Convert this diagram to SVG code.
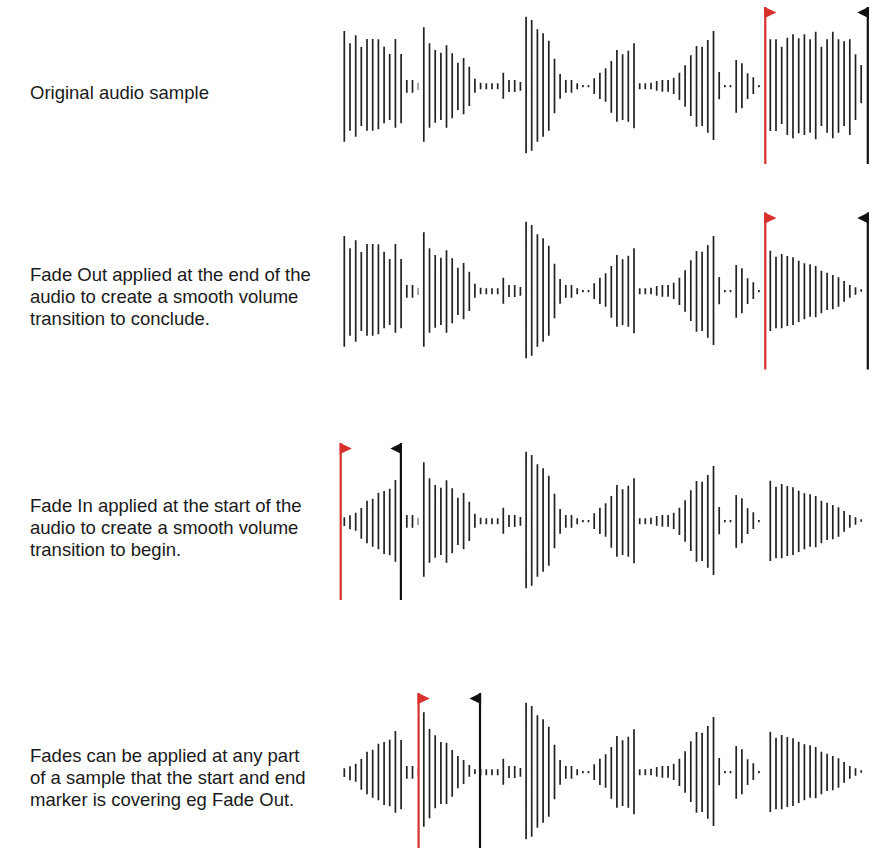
<svg xmlns="http://www.w3.org/2000/svg" xmlns:xlink="http://www.w3.org/1999/xlink" width="881" height="848" viewBox="0 0 881 848">
<style>
.b{fill:none;stroke:#222;stroke-width:1.7;stroke-linecap:butt}
.g{fill:none;stroke:#9a9a9a;stroke-width:1.7}
.t{font-family:"Liberation Sans",Arial,Helvetica,sans-serif;font-size:18.5px;fill:#1a1a1a}
.rp{stroke:#d8312d;stroke-width:2.2;fill:none}
.rf{fill:#d8312d}
.kp{stroke:#111;stroke-width:2.2;fill:none}
.kf{fill:#111}
</style>
<defs>
<path id="segA" class="b" d="M344.3 31V141.7M350 43.3V130.7M355.7 35.3V136.7M361.3 47V126M367 39V130.7M372.7 39V130.7M378.4 39.3V129.3M384.1 46.7V123.3M389.7 54V120M395.4 39V127.7M401.1 54V123.3"/>
<path id="segAf" class="b" d="M344.3 82.3V91M350 80.3V94.3M355.7 77.7V95.7M361.3 73V103.7M367 65.7V108.3M372.7 63.7V111.7M378.4 57.7V114.3M384.1 56V119M389.7 53.7V120.3M395.4 45V126.7M401.1 54V123.3"/>
<g id="segB"><path class="b" d="M406.8 80V92.7M412.5 80V92.7"/><path class="g" d="M418.1 82.7V90"/></g>
<path id="segC" class="b" d="M423.8 27.3V141.7M429.5 43.3V127.7M435.2 50V122.7M440.9 52.7V120M446.5 45.3V127.7M452.2 53.3V118.3M457.9 62.7V110M463.6 58V114.3M469.3 66.7V106M474.9 78.7V92.7"/>
<path id="segCf" class="b" d="M423.8 26.3V140.7M429.5 43V132.3M435.2 49.3V122.3M440.9 56V118M446.5 56.7V118M452.2 64V110.7M457.9 70V102.3M463.6 74V98M469.3 79V90.7M474.9 83.3V88"/>
<path id="segD" class="b" d="M480.6 82.7V89.3M486.3 83.3V89.3M492 83.3V89.3M497.7 83.3V89.3M503.3 72.7V98.7M509 80V92M514.7 80V92M520.4 82V90.7M526.1 16.7V153.3M531.7 20V150.7M537.4 29.3V141.7M543.1 33.3V136.7M548.8 40.7V130.7M554.5 58.7V113.3M560.1 74V98.7M565.8 80V92.7M571.5 80V92.7M577.2 83.3V89.3M582.9 85V87.3M588.5 85V87.3M594.2 78.3V94M599.9 72.7V99M605.6 68.3V101.7M611.3 61V112.7M616.9 50V121.7M622.6 54.3V120M628.3 50.7V121.7M634 43.3V128.3M639.7 83.3V89.3M645.3 83.3V89.3M651 82.7V89.3M656.7 81V90.7M662.4 80V91.7M668.1 80V91.7M673.7 77.7V94M679.4 72.7V100M685.1 65.3V106.7M690.8 55.3V116M696.5 46V126.7M702.1 46.7V126M707.8 40V132.7M713.5 31V140M719.2 72V99.3M724.9 85V87.3M730.5 85V87.3M736.2 60V112.7M741.9 63.3V108.3M747.6 73.3V99M753.3 77.3V94M758.9 85V87.3"/>
<path id="segE" class="b" d="M770.3 39.3V131M776 39.3V131M781.7 46.7V124M787.3 37.7V135M793 34.3V138.3M798.7 38.3V133.3M804.4 34.3V135M810.1 39.3V132.7M815.7 31.7V139.3M821.4 46.7V126M827.1 39.3V132.7M832.8 31.7V138.3M838.5 39.3V132.7M844.1 41.3V126M849.8 39.3V135M855.5 54.3V120M861.2 65V103.3"/>
<path id="segEf" class="b" d="M770.3 45.7V126M776 51.7V123.3M781.7 49V123.3M787.3 51V121M793 52.3V120M798.7 55.7V117M804.4 58.3V114.3M810.1 59.3V111.7M815.7 61V112.3M821.4 65.7V108.3M827.1 67.7V105M832.8 70V104.3M838.5 72.3V101.7M844.1 76V96.7M849.8 80V92.7M855.5 82.3V89.7M861.2 84.3V86.7"/>
<g id="redM"><path class="rp" d="M0 7V164"/><path class="rf" d="M-1.1 6.7L11.2 12.5L-1.1 18.3Z"/></g>
<g id="blkM"><path class="kp" d="M0 7V164"/><path class="kf" d="M1.1 6.7L-10.5 12.5L1.1 18.3Z"/></g>
</defs>

<g id="row1">
<text class="t" x="30" y="98.8">Original audio sample</text>
<g id="wave1">
<use xlink:href="#segA"/><use xlink:href="#segB"/><use xlink:href="#segC"/><use xlink:href="#segD"/><use xlink:href="#segE"/>
</g>
<use id="start1" xlink:href="#redM" transform="translate(765.3,0)"/>
<use id="end1" xlink:href="#blkM" transform="translate(867.8,0)"/>
</g>

<g id="row2">
<text class="t" x="30" y="281.2">Fade Out applied at the end of the</text>
<text class="t" x="30" y="303.3">audio to create a smooth volume</text>
<text class="t" x="30" y="325.4">transition to conclude.</text>
<g id="wave2" transform="translate(0,205)">
<use xlink:href="#segA"/><use xlink:href="#segB"/><use xlink:href="#segC"/><use xlink:href="#segD"/><use xlink:href="#segEf"/>
</g>
<use id="start2" xlink:href="#redM" transform="translate(765.3,205.5)"/>
<use id="end2" xlink:href="#blkM" transform="translate(867.8,205.5)"/>
</g>

<g id="row3">
<text class="t" x="30" y="511.8">Fade In applied at the start of the</text>
<text class="t" x="30" y="533.9">audio to create a smooth volume</text>
<text class="t" x="30" y="556">transition to begin.</text>
<g id="wave3" transform="translate(0,435)">
<use xlink:href="#segAf"/><use xlink:href="#segB"/><use xlink:href="#segC"/><use xlink:href="#segD"/><use xlink:href="#segEf"/>
</g>
<use id="start3" xlink:href="#redM" transform="translate(340.7,436)"/>
<use id="end3" xlink:href="#blkM" transform="translate(400.9,436)"/>
</g>

<g id="row4">
<text class="t" x="30" y="761.5">Fades can be applied at any part</text>
<text class="t" x="30" y="783.6">of a sample that the start and end</text>
<text class="t" x="30" y="805.7">marker is covering eg Fade Out.</text>
<g id="wave4" transform="translate(0,686)">
<use xlink:href="#segAf"/><use xlink:href="#segB"/><use xlink:href="#segCf"/><use xlink:href="#segD"/><use xlink:href="#segEf"/>
</g>
<use id="start4" xlink:href="#redM" transform="translate(418.6,686)"/>
<use id="end4" xlink:href="#blkM" transform="translate(480,686)"/>
</g>
</svg>
